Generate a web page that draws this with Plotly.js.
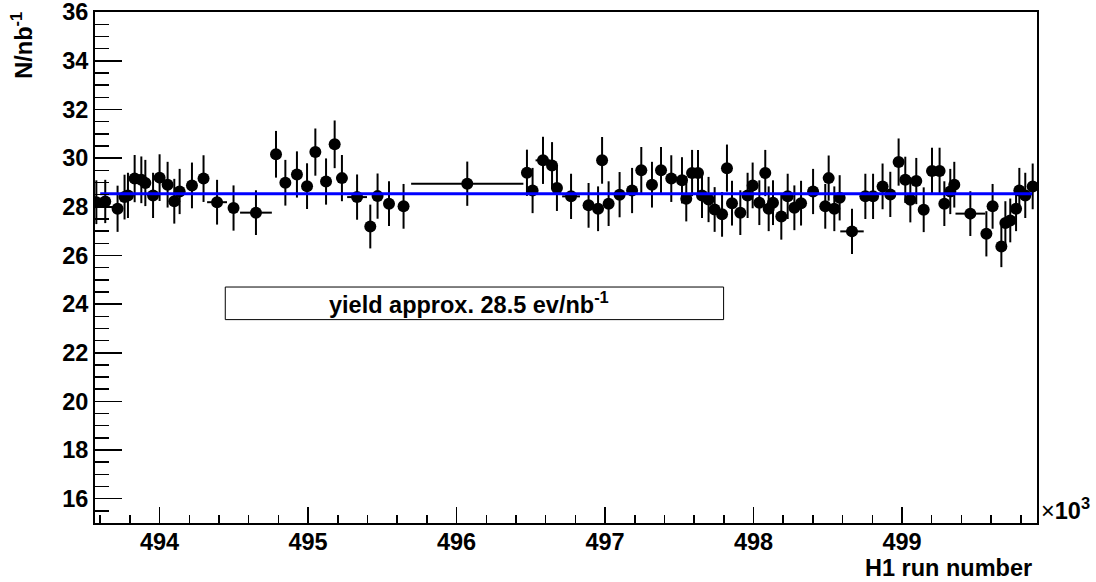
<!DOCTYPE html>
<html>
<head>
<meta charset="utf-8">
<script src="https://cdn.plot.ly/plotly-3.0.1.min.js"></script>
<style>
  html, body { margin: 0; padding: 0; background: #ffffff; }
  #chart { width: 1096px; height: 582px; }
</style>
</head>
<body>
<div id="chart"></div>
<script>
// Run numbers (in units of 10^3)
const runs = [
  493.574, 493.634, 493.717, 493.764, 493.787, 493.832, 493.877, 493.904, 493.956, 494.000,
  494.054, 494.099, 494.135, 494.218, 494.296, 494.387, 494.498, 494.649, 494.784, 494.847,
  494.925, 494.993, 495.049, 495.121, 495.179, 495.228, 495.330, 495.419, 495.468, 495.545,
  495.643, 496.072, 496.474, 496.512, 496.582, 496.643, 496.676, 496.771, 496.889, 496.953,
  496.980, 497.024, 497.098, 497.182, 497.244, 497.316, 497.377, 497.446, 497.518, 497.547,
  497.586, 497.626, 497.653, 497.697, 497.738, 497.788, 497.821, 497.855, 497.911, 497.960,
  497.994, 498.039, 498.079, 498.102, 498.131, 498.187, 498.230, 498.275, 498.320, 498.401,
  498.483, 498.506, 498.544, 498.580, 498.663, 498.753, 498.805, 498.869, 498.921, 498.977,
  499.022, 499.056, 499.096, 499.146, 499.202, 499.253, 499.285, 499.325, 499.352, 499.460,
  499.568, 499.610, 499.669, 499.696, 499.729, 499.768, 499.790, 499.830, 499.880
];
// Yield N/nb^-1
const yieldVals = [
  28.19, 28.22, 27.92, 28.40, 28.47, 29.16, 29.11, 28.98, 28.47, 29.20,
  28.91, 28.23, 28.63, 28.88, 29.16, 28.19, 27.95, 27.76, 30.16, 28.99,
  29.33, 28.85, 30.25, 29.04, 30.57, 29.18, 28.40, 27.19, 28.44, 28.13,
  28.02, 28.95, 29.40, 28.67, 29.91, 29.70, 28.77, 28.43, 28.06, 27.92,
  29.91, 28.13, 28.50, 28.67, 29.50, 28.91, 29.50, 29.16, 29.09, 28.33,
  29.39, 29.39, 28.47, 28.30, 27.89, 27.69, 29.59, 28.15, 27.76, 28.47,
  28.88, 28.17, 29.39, 27.92, 28.17, 27.60, 28.43, 27.96, 28.15, 28.63,
  28.02, 29.18, 27.92, 28.37, 26.99, 28.43, 28.43, 28.84, 28.51, 29.84,
  29.11, 28.29, 29.06, 27.88, 29.47, 29.47, 28.13, 28.63, 28.91, 27.72,
  26.89, 28.02, 26.37, 27.33, 27.44, 27.92, 28.67, 28.47, 28.84
];
// Vertical (statistical) errors
const yieldErr = [
  0.90, 0.89, 0.95, 0.92, 0.93, 0.97, 0.96, 0.95, 0.93, 0.96,
  0.94, 0.92, 0.93, 0.94, 0.96, 0.92, 0.93, 0.92, 0.96, 0.94,
  0.95, 0.94, 0.97, 0.95, 0.98, 0.95, 0.93, 0.90, 0.93, 0.92,
  0.92, 0.91, 0.95, 0.93, 0.97, 0.96, 0.94, 0.93, 0.92, 0.92,
  0.96, 0.92, 0.93, 0.93, 0.96, 0.94, 0.96, 0.96, 0.95, 0.93,
  0.95, 0.95, 0.93, 0.93, 0.92, 0.92, 0.97, 0.92, 0.92, 0.93,
  0.94, 0.92, 0.95, 0.92, 0.92, 0.95, 0.93, 0.92, 0.92, 0.93,
  0.92, 0.93, 0.92, 0.93, 0.93, 0.93, 0.93, 0.94, 0.93, 0.97,
  0.95, 0.93, 0.95, 0.92, 0.96, 0.96, 0.92, 0.93, 0.94, 0.92,
  0.93, 0.92, 0.85, 0.90, 0.90, 0.92, 0.93, 0.93, 0.94
];
// Horizontal errors (half run-range widths, in 10^3 runs)
const runErr = [
  0.02, 0.02, 0.02, 0.01, 0.01, 0.02, 0.01, 0.01, 0.02, 0.02,
  0.02, 0.01, 0.02, 0.03, 0.02, 0.067, 0.02, 0.107, 0.02, 0.02,
  0.02, 0.02, 0.02, 0.02, 0.02, 0.02, 0.067, 0.02, 0.02, 0.03,
  0.03, 0.378, 0.02, 0.02, 0.05, 0.02, 0.02, 0.06, 0.02, 0.02,
  0.01, 0.02, 0.02, 0.02, 0.02, 0.02, 0.02, 0.02, 0.02, 0.01,
  0.01, 0.01, 0.01, 0.01, 0.01, 0.01, 0.01, 0.01, 0.02, 0.01,
  0.01, 0.01, 0.01, 0.01, 0.01, 0.02, 0.02, 0.02, 0.02, 0.03,
  0.01, 0.01, 0.01, 0.02, 0.079, 0.02, 0.02, 0.02, 0.02, 0.02,
  0.01, 0.01, 0.02, 0.02, 0.02, 0.02, 0.01, 0.01, 0.01, 0.10,
  0.02, 0.02, 0.01, 0.01, 0.01, 0.01, 0.01, 0.02, 0.02
];
// Constant fit
const fitRange = [493.60, 499.876];
const fitValue = 28.54;
// Axis ticks
const xTicks = [494, 495, 496, 497, 498, 499];
const yTicks = [16, 18, 20, 22, 24, 26, 28, 30, 32, 34, 36];
const legendText = 'yield approx. 28.5 ev/nb<sup>-1</sup>';
const xTitle = 'H1 run number';
const yTitle = 'N/nb<sup>-1</sup>';
const xExponent = '<span style="font-weight:normal">×</span>10<sup>3</sup>';

const FONT = 'Liberation Sans, Arial, Helvetica, sans-serif';
const FS = 23.5;

const pointsTrace = {
  type: 'scatter',
  mode: 'markers',
  x: runs,
  y: yieldVals,
  marker: { color: '#000000', size: 12, symbol: 'circle' },
  error_y: { type: 'data', array: yieldErr, visible: true, color: '#000000', thickness: 2, width: 0 },
  error_x: { type: 'data', array: runErr, visible: true, color: '#000000', thickness: 2, width: 0 },
  hoverinfo: 'none',
  showlegend: false
};

const fitTrace = {
  type: 'scatter',
  mode: 'lines',
  x: fitRange,
  y: [fitValue, fitValue],
  line: { color: '#0000ff', width: 3 },
  hoverinfo: 'none',
  showlegend: false
};

const layout = {
  width: 1096,
  height: 582,
  margin: { l: 95, r: 59, t: 12, b: 59, pad: 0 },
  paper_bgcolor: '#ffffff',
  plot_bgcolor: '#ffffff',
  showlegend: false,
  font: { family: FONT, size: FS, color: '#000000', weight: 'bold' },
  xaxis: {
    range: [493.565, 499.909],
    tickmode: 'array', tickvals: xTicks, ticktext: xTicks.map(String),
    ticks: 'inside', ticklen: 16, tickwidth: 1.5, tickcolor: '#000000',
    ticklabelstandoff: -3,
    ticklabeloverflow: 'allow',
    minor: { tick0: 494, dtick: 0.2, ticks: 'inside', ticklen: 8, tickwidth: 1.5, tickcolor: '#000000', showgrid: false },
    showline: true, linewidth: 2, linecolor: '#000000', mirror: true,
    showgrid: false, zeroline: false,
    tickfont: { family: FONT, size: FS, color: '#000000', weight: 'bold' },
    fixedrange: true
  },
  yaxis: {
    range: [15, 36.01],
    tickmode: 'array', tickvals: yTicks, ticktext: yTicks.map(String),
    ticks: 'inside', ticklen: 27, tickwidth: 1.5, tickcolor: '#000000',
    ticklabeloverflow: 'allow',
    minor: { tick0: 16, dtick: 0.5, ticks: 'inside', ticklen: 14, tickwidth: 1.5, tickcolor: '#000000', showgrid: false },
    showline: true, linewidth: 2, linecolor: '#000000', mirror: true,
    showgrid: false, zeroline: false,
    tickfont: { family: FONT, size: FS, color: '#000000', weight: 'bold' },
    fixedrange: true
  },
  shapes: [
    {
      type: 'rect', xref: 'paper', yref: 'paper',
      x0: 0.1383, x1: 0.6673, y0: 0.398, y1: 0.4618,
      line: { color: '#000000', width: 1 }, fillcolor: 'rgba(255,255,255,0)', layer: 'above'
    }
  ],
  annotations: [
    {
      text: legendText, xref: 'paper', yref: 'paper', x: 0.397, y: 0.431,
      xanchor: 'center', yanchor: 'middle', showarrow: false,
      font: { family: FONT, size: FS, color: '#000000', weight: 'bold' }
    },
    {
      text: xTitle, xref: 'paper', yref: 'paper', x: 0.997, y: -0.088,
      xanchor: 'right', yanchor: 'middle', showarrow: false,
      font: { family: FONT, size: FS, color: '#000000', weight: 'bold' }
    },
    {
      text: yTitle, xref: 'paper', yref: 'paper', x: -0.077, y: 0.935,
      xanchor: 'center', yanchor: 'middle', textangle: -90, showarrow: false,
      font: { family: FONT, size: FS, color: '#000000', weight: 'bold' }
    },
    {
      text: xExponent, xref: 'paper', yref: 'paper', x: 1.002, y: 0.028,
      xanchor: 'left', yanchor: 'middle', showarrow: false,
      font: { family: FONT, size: FS, color: '#000000', weight: 'bold' }
    }
  ]
};

Plotly.newPlot('chart', [pointsTrace, fitTrace], layout, { displayModeBar: false, staticPlot: true });
</script>
</body>
</html>
